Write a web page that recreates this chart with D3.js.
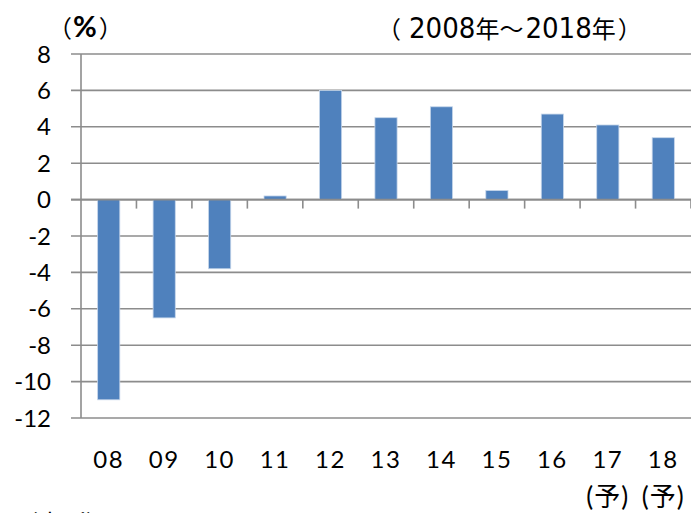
<!DOCTYPE html>
<html>
<head>
<meta charset="utf-8">
<script src="https://cdn.jsdelivr.net/npm/d3@7"></script>
<style>
  body { margin: 0; background: #fff; }
  svg { display: block; }
  text { font-family: Lato, "Noto Sans CJK JP", sans-serif; fill: #000; }
  .cjk { font-family: "Noto Sans CJK JP", sans-serif; }
  .narrow { font-family: "Liberation Sans Narrow", "DejaVu Sans Condensed", Lato, sans-serif; }
</style>
</head>
<body>
<script>
// Real GDP growth by year (%), 17 and 18 are forecasts
const years = ["08", "09", "10", "11", "12", "13", "14", "15", "16", "17", "18"];
const growth = [-11.0, -6.5, -3.8, 0.2, 6.0, 4.5, 5.1, 0.5, 4.7, 4.1, 3.4];
const forecast = ["", "", "", "", "", "", "", "", "", "(予)", "(予)"];
const yTicks = [8, 6, 4, 2, 0, -2, -4, -6, -8, -10, -12];

const W = 691, H = 513;
const margin = { top: 54, right: 0, bottom: 95, left: 81 };

const svg = d3.select("body").append("svg")
  .attr("width", W)
  .attr("height", H);

const x = d3.scaleBand()
  .domain(years)
  .range([margin.left, W - margin.right])
  .paddingInner(0.6)
  .paddingOuter(0.3);

const y = d3.scaleLinear()
  .domain([-12, 8])
  .range([H - margin.bottom, margin.top]);

const grid = "#8c8c8c";

// gridlines
svg.append("g")
  .selectAll("line")
  .data(yTicks)
  .join("line")
  .attr("x1", margin.left - 10)
  .attr("x2", W - margin.right)
  .attr("y1", d => y(d))
  .attr("y2", d => y(d))
  .attr("stroke", grid)
  .attr("stroke-width", 1.6);

// y axis line
svg.append("line")
  .attr("x1", margin.left).attr("x2", margin.left)
  .attr("y1", y(8)).attr("y2", y(-12))
  .attr("stroke", grid)
  .attr("stroke-width", 1.6);

// y tick labels
svg.append("g")
  .selectAll("text")
  .data(yTicks)
  .join("text")
  .attr("x", 51)
  .attr("y", d => y(d))
  .attr("dy", "0.36em")
  .attr("text-anchor", "end")
  .attr("font-size", 24)
  .text(d => d);

// bars
svg.append("g")
  .selectAll("rect")
  .data(years)
  .join("rect")
  .attr("x", d => x(d))
  .attr("width", x.bandwidth())
  .attr("y", (d, i) => y(Math.max(0, growth[i])))
  .attr("height", (d, i) => Math.abs(y(growth[i]) - y(0)))
  .attr("fill", "#4f81bd")
  .attr("stroke", "#c6d6ea")
  .attr("stroke-width", 0.8);

// category tick marks on the zero line
const step = x.step();
svg.append("g")
  .selectAll("line")
  .data(d3.range(1, years.length + 1))
  .join("line")
  .attr("x1", i => margin.left + i * step)
  .attr("x2", i => margin.left + i * step)
  .attr("y1", y(0))
  .attr("y2", y(0) + 9)
  .attr("stroke", grid)
  .attr("stroke-width", 1.6);

// zero line on top
svg.append("line")
  .attr("x1", margin.left - 10).attr("x2", W - margin.right)
  .attr("y1", y(0)).attr("y2", y(0))
  .attr("stroke", grid)
  .attr("stroke-width", 1.6);

// x labels
svg.append("g")
  .selectAll("text")
  .data(years)
  .join("text")
  .attr("x", d => x(d) + x.bandwidth() / 2)
  .attr("y", 468)
  .attr("text-anchor", "middle")
  .attr("font-size", 24)
  .attr("letter-spacing", 1.5)
  .text(d => d);

svg.append("g")
  .selectAll("text")
  .data(years.filter((d, i) => forecast[i]))
  .join("text")
  .attr("x", d => x(d) + x.bandwidth() / 2)
  .attr("y", 506)
  .attr("text-anchor", "middle")
  .attr("font-size", 26)
  .attr("letter-spacing", 1)
  .text(d => forecast[years.indexOf(d)]);

// unit label
const unit = svg.append("text").attr("x", 48).attr("y", 37);
unit.append("tspan").attr("class", "cjk").attr("font-size", 24).text("（");
unit.append("tspan").attr("font-size", 29).attr("font-weight", 700).attr("dx", 1).text("%");
unit.append("tspan").attr("class", "cjk").attr("font-size", 24).attr("dx", 2).text("）");

// period label
const period = svg.append("text").attr("x", 377).attr("y", 38);
period.append("tspan").attr("class", "cjk").attr("font-size", 24).text("（");
period.append("tspan").attr("class", "narrow").attr("font-size", 29).attr("dx", 8).text("2008");
period.append("tspan").attr("class", "cjk").attr("font-size", 24).text("年～");
period.append("tspan").attr("class", "narrow").attr("font-size", 29).attr("dx", 2).text("2018");
period.append("tspan").attr("class", "cjk").attr("font-size", 24).text("年");
period.append("tspan").attr("class", "cjk").attr("font-size", 24).attr("dx", 2).text("）");

// source note, cut off at the bottom edge
svg.append("text")
  .attr("class", "cjk")
  .attr("x", 14)
  .attr("y", 532)
  .attr("font-size", 24)
  .text("（出所）");
</script>
</body>
</html>
